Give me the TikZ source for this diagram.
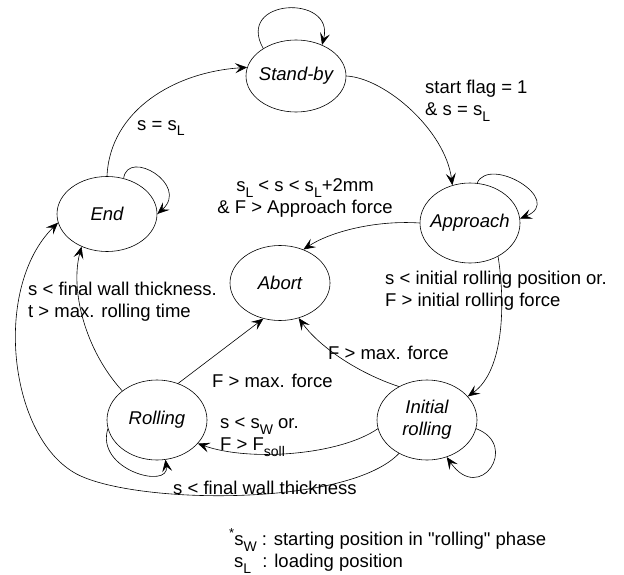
\documentclass[tikz,border=0pt]{standalone}
\usepackage{fontspec}
\setmainfont{Liberation Sans}
\usetikzlibrary{arrows.meta,shapes.geometric}
\newcommand{\lsub}[1]{\raisebox{-0.3em}{\fontsize{14}{14}\selectfont #1}}
\begin{document}
\begin{tikzpicture}[x=1pt,y=-1pt,
  st/.style={draw,ellipse,line width=0.6pt,inner xsep=-15pt,inner ysep=0pt,font=\fontsize{18.5}{22}\selectfont\itshape,align=center},
  lab/.style={inner sep=0pt,font=\fontsize{18.5}{22}\selectfont,align=left},
  tr/.style={line width=0.6pt,-{Stealth[length=12pt,width=10pt,inset=5pt]}}]
\useasboundingbox (0,0) rectangle (624,575);
% states
\node[st,minimum width=100pt,minimum height=72pt] (sb) at (296,76) {Stand-by};
\node[st,minimum width=100pt,minimum height=75pt] (en) at (107,214) {End};
\node[st,minimum width=100pt,minimum height=80pt] (ap) at (470,223) {Approach};
\node[st,minimum width=100pt,minimum height=75pt] (ab) at (280,283) {Abort};
\node[st,minimum width=100pt,minimum height=80pt] (ro) at (157,420) {Rolling};
\node[st,minimum width=100pt,minimum height=80pt] (ir) at (427,420) {Initial\\rolling};
% labels
\node[lab,anchor=west] (l1) at (137,128) {s = s\lsub{L}};
\node[lab,anchor=west] (l2) at (425,101) {start flag = 1\\\& s = s\lsub{L}};
\node[lab,align=center] (l3) at (305,198) {s\lsub{L} < s < s\lsub{L}+2mm\\\& F > Approach force};
\node[lab,anchor=west] (l4) at (385,291) {s < initial rolling position or.\\F > initial rolling force};
\node[lab,anchor=west] (l5) at (28,302) {s < final wall thickness.\\t > max. rolling time};
\node[lab,anchor=west] (l6) at (328,353) {F > max. force};
\node[lab,anchor=west] (l7) at (212,381) {F > max. force};
\node[lab,anchor=west] (l8) at (220,437) {s < s\lsub{W} or.\\F > F\lsub{soll}};
\node[lab,anchor=base] (l9) at (265,494) {s < final wall thickness};
\node[lab,anchor=west] (fn) at (229,551) {\raisebox{0.45em}{\fontsize{13}{13}\selectfont *}s\lsub{W} : starting position in \textquotedbl rolling\textquotedbl{} phase\\\hspace{5pt}s\lsub{L}\hspace{6pt} : loading position};
% transitions
\draw[tr] (sb.140) .. controls (235,-2) and (335,-6) .. (sb.50);
\draw[tr] (en.90) .. controls (110,110) and (175,72) .. (sb.170);
\draw[tr] (en.65) .. controls (128,148) and (190,185) .. (en.0);
\draw[tr] (sb.0) .. controls (385,78) and (445,130) .. (ap.115);
\draw[tr] (ap.80) .. controls (490,155) and (565,200) .. (ap.5);
\draw[tr] (ap.180) .. controls (375,220) and (330,232) .. (ab.55);
\draw[tr] (ap.-50) .. controls (505,300) and (505,370) .. (ir.30);
\draw[tr] (ir.-10) .. controls (520,445) and (480,505) .. (ir.-62);
\draw[tr] (ir.130) .. controls (355,372) and (318,345) .. (ab.-62);
\draw[tr] (ro.60) -- (ab.-115);
\draw[tr] (ir.190) .. controls (340,455) and (250,462) .. (ro.-30);
\draw[tr] (ro.190) .. controls (95,470) and (170,490) .. (ro.-78);
\draw[tr] (ro.140) .. controls (85,350) and (70,290) .. (en.-128);
\draw[tr] (ir.-130) .. controls (350,505) and (150,505) .. (83,477) .. controls (10,447) and (-10,290) .. (en.190);
\end{tikzpicture}
\end{document}
